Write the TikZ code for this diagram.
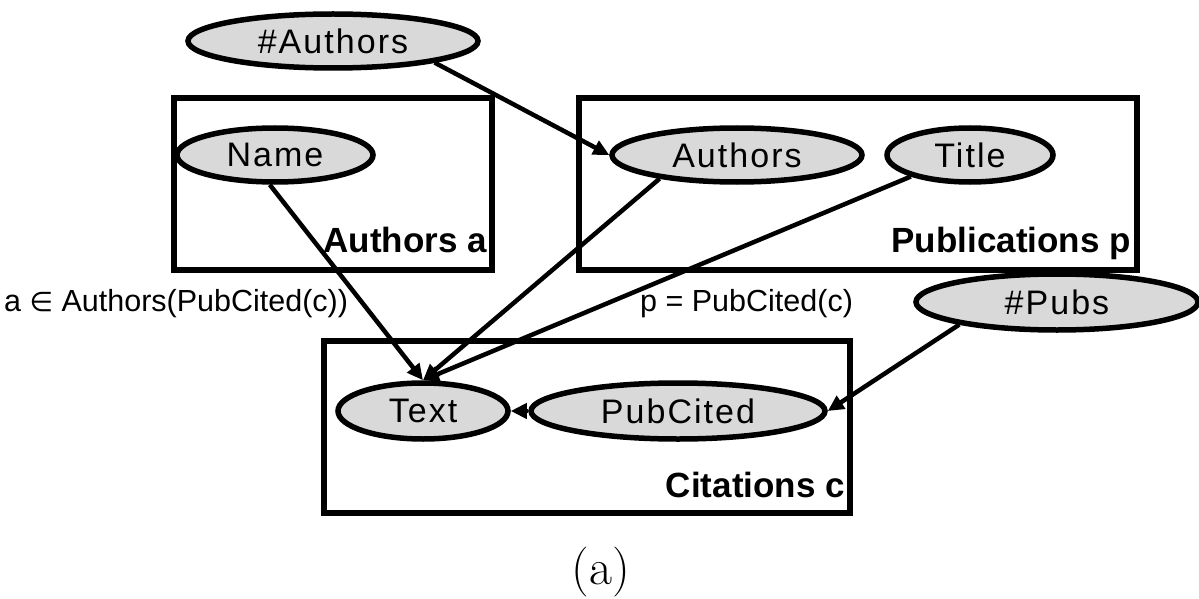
\documentclass[tikz,border=0pt]{standalone}
\usepackage{fontspec}
\setsansfont{Liberation Sans}
\newfontfamily\symfont{DejaVu Sans}
\usetikzlibrary{shapes.geometric,arrows.meta}
\tikzset{
  var/.style={ellipse, draw, line width=5.5pt, fill=black!15, inner sep=0pt,
    font=\sffamily\addfontfeatures{LetterSpace=6}\fontsize{34}{34}\selectfont},
  plate/.style={draw, line width=5.5pt},
  platelabel/.style={font=\sffamily\bfseries\fontsize{35}{35}\selectfont, inner sep=0pt},
  edgelabel/.style={font=\sffamily\fontsize{30.5}{30.5}\selectfont, inner sep=0pt},
  dep/.style={line width=4.5pt, -{Triangle[length=16pt,width=15pt]}},
}
\begin{document}
\begin{tikzpicture}[x=1pt,y=-1pt]
\useasboundingbox (0,0) rectangle (1199,599);
% plates
\draw[plate] (174,98) rectangle (492,270);
\draw[plate] (579,98) rectangle (1137,270);
\draw[plate] (324,341) rectangle (850,513);
\node[platelabel, anchor=base east] (lblA) at (487,252) {Authors a};
\node[platelabel, anchor=base east] (lblP) at (1131,252) {Publications p};
\node[platelabel, anchor=base east] (lblC) at (845,497) {Citations c};
% random variables
\node[var, minimum width=290pt, minimum height=54pt] (hashA) at (333,41) {\#Authors};
\node[var, minimum width=196pt, minimum height=54pt] (name) at (275,155) {Name};
\node[var, minimum width=250pt, minimum height=54pt] (authors) at (737,155) {Authors};
\node[var, minimum width=166pt, minimum height=54pt] (title) at (970,155) {Title};
\node[var, minimum width=282pt, minimum height=56pt] (hashP) at (1057,302) {\#Pubs};
\node[var, minimum width=170pt, minimum height=56pt] (text) at (423,411) {Text};
\node[var, minimum width=294pt, minimum height=56pt] (pubc) at (678,411) {PubCited};
% dependency labels
\node[edgelabel, anchor=base west] (l1) at (4,311) {a {\symfont\fontsize{27}{27}\selectfont ∈} Authors(PubCited(c))};
\node[edgelabel, anchor=base west] (l2) at (640,311) {p = PubCited(c)};
% dependencies
\draw[dep] (hashA.-12) -- (authors.west);
\draw[dep] (name.-100) -- (text.north);
\draw[dep] (authors.-163) -- (text.north);
\draw[dep] (title.-160) -- (text.north);
\draw[dep] (pubc.west) -- (text.east);
\draw[dep] (hashP.-167) -- (pubc.east);
% caption
\node[font=\fontsize{50}{50}\selectfont, inner sep=0pt, anchor=base] (cap) at (601,584) {(a)};
\end{tikzpicture}
\end{document}
